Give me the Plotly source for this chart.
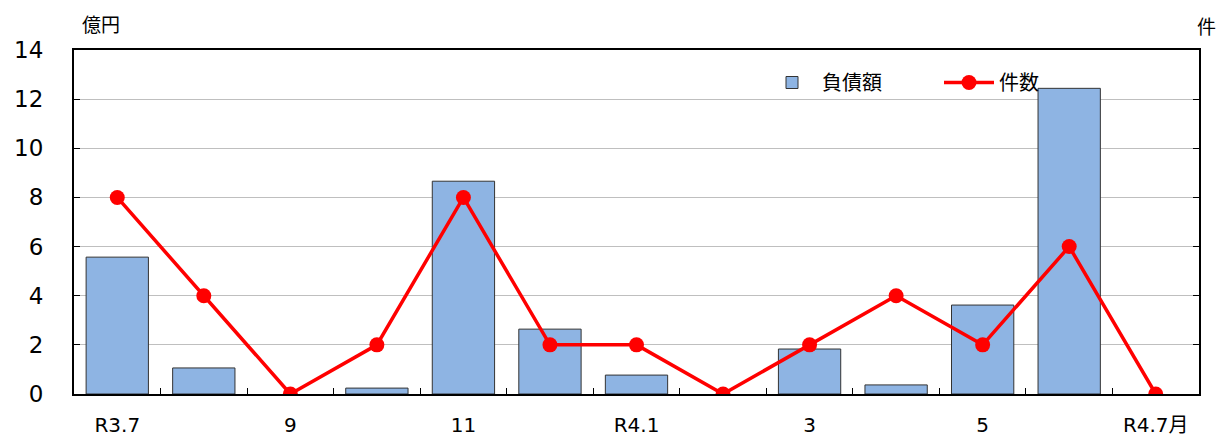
import plotly.graph_objects as go

categories = ["R3.7", "R3.8", "R3.9", "R3.10", "R3.11", "R3.12", "R4.1", "R4.2", "R4.3", "R4.4", "R4.5", "R4.6", "R4.7"]
tick_labels = ["R3.7", "", "9", "", "11", "", "R4.1", "", "3", "", "5", "", "R4.7月"]
debt = [5.57, 1.06, 0, 0.24, 8.66, 2.64, 0.77, 0, 1.83, 0.37, 3.62, 12.44, 0]
counts = [8, 4, 0, 2, 8, 2, 2, 0, 2, 4, 2, 6, 0]

FONT = "DejaVu Sans, Noto Sans CJK JP, sans-serif"

W, H = 1220, 437
ML, MR, MT, MB = 74, 21, 50, 43
PW = W - ML - MR
PH = H - MT - MB

fig = go.Figure()
fig.add_trace(go.Bar(
    x=categories, y=debt, name="負債額",
    marker=dict(color="#8EB4E3",
                line=dict(color="#333333", width=[1 if v > 0 else 0 for v in debt])),
    width=0.72,
))
fig.add_trace(go.Scatter(
    x=categories, y=counts, name="件数", yaxis="y2",
    mode="lines+markers",
    line=dict(color="#FF0000", width=3.5),
    marker=dict(color="#FF0000", size=15),
))

fig.update_layout(
    width=W, height=H,
    margin=dict(l=ML, r=MR, t=MT, b=MB, autoexpand=False),
    plot_bgcolor="white", paper_bgcolor="white",
    font=dict(family=FONT, color="#000000"),
    showlegend=True,
    legend=dict(orientation="h", x=(762 - ML) / PW, y=1 - (77 - MT - 14) / PH,
                xanchor="left", yanchor="top",
                font=dict(size=20, family=FONT), bgcolor="rgba(0,0,0,0)",
                itemwidth=50, entrywidth=112, entrywidthmode="pixels", tracegroupgap=0),
    xaxis=dict(
        range=[-0.5, len(categories) - 0.5],
        tickmode="array", tickvals=categories, ticktext=tick_labels,
        tickson="boundaries", ticks="inside", ticklen=6, tickcolor="#000",
        showline=True, linecolor="#000", linewidth=2, mirror=True,
        tickfont=dict(size=20), showgrid=False, ticklabelstandoff=12,
        automargin=False,
    ),
    yaxis=dict(
        range=[0, 14], dtick=2, showgrid=True, gridcolor="#BFBFBF", gridwidth=1,
        ticks="inside", ticklen=6, tickcolor="#000",
        showline=True, linecolor="#000", linewidth=2,
        tickfont=dict(size=23), zeroline=False, ticklabelstandoff=24,
        automargin=False,
    ),
    yaxis2=dict(
        range=[0, 14], dtick=2, overlaying="y", side="right",
        showgrid=False, ticks="inside", ticklen=6, tickcolor="#000",
        showticklabels=False, showline=True, linecolor="#000", linewidth=2,
        zeroline=False, automargin=False,
    ),
    annotations=[
        dict(text="億円", xref="paper", yref="paper", x=0, y=1 + (MT - 25) / PH,
             xanchor="left", yanchor="middle", xshift=6, showarrow=False, font=dict(size=19)),
        dict(text="件", xref="paper", yref="paper", x=1, y=1 + (MT - 27) / PH,
             xanchor="left", yanchor="middle", xshift=-4, showarrow=False, font=dict(size=19)),
    ],
)

fig.write_html(
    "out.html",
    config={"displayModeBar": False},
    post_script="document.body.style.margin='0';document.body.style.overflow='hidden';",
)
